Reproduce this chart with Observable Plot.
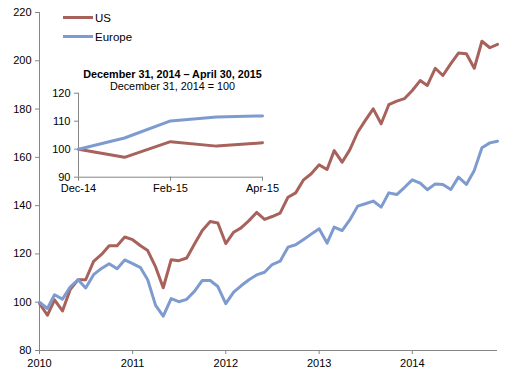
<!DOCTYPE html>
<html>
<head>
<meta charset="utf-8">
<script src="https://cdn.jsdelivr.net/npm/d3@7"></script>
<script src="https://cdn.jsdelivr.net/npm/@observablehq/plot@0.6"></script>
<style>
  html, body { margin: 0; padding: 0; background: #fff; }
  #wrap { position: relative; width: 514px; height: 377px; font-family: "Liberation Sans", Arial, sans-serif; }
  #wrap svg { position: absolute; overflow: visible; }
  #legend { position: absolute; left: 63px; top: 8px; font-size: 11.5px; color: #000; }
  .item { display: flex; align-items: center; height: 19px; }
  .sw { width: 30px; height: 3px; margin-right: 2px; }
</style>
</head>
<body>
<div id="wrap"></div>
<script>
// ---- data ----
const seriesNames = ["US", "Europe"];
const seriesColors = ["#A8625C", "#7E9BCF"];
const startMonth = "2010-01-01";
const endMonth = "2014-12-01";
const yearTicks = ["2010", "2011", "2012", "2013", "2014"];
const yTicks = [80, 100, 120, 140, 160, 180, 200, 220];

const usValues = [
  99.5, 94.6, 101, 96.4, 105.2, 109.3, 109.3, 116.9, 119.8, 123.4, 123.4, 127,
  125.9, 123.4, 121.4, 114.6, 106, 117.6, 117.2, 118.3, 124.2, 129.7, 133.4, 132.8,
  124.3, 129, 130.8, 133.8, 137.2, 134.3, 135.5, 136.9, 143.5, 145.3, 150.7, 153.2,
  156.9, 155, 162.8, 158, 163.1, 170.4, 175.3, 180.1, 173.9, 181.8, 183.3, 184.3,
  187.7, 191.8, 189.8, 196.9, 193.9, 198.8, 203.2, 202.9, 196.9, 208.1, 205.4, 206.8
];
const europeValues = [
  100, 97.4, 103.1, 101.3, 106.3, 109.3, 105.9, 111.4, 114, 115.9, 113.9, 117.5,
  116, 114.3, 109.3, 98.7, 94.2, 101.5, 100.2, 101.2, 104.6, 109, 109, 106.5,
  99.4, 104.2, 106.8, 109.3, 111.3, 112.4, 115.6, 117, 122.8, 123.8, 126, 128.2,
  130.4, 124.5, 131.1, 129.7, 134.1, 139.8, 140.8, 141.9, 139.4, 145.3, 144.6, 147.5,
  150.7, 149.3, 146.6, 149, 148.8, 146.7, 151.8, 148.8, 154.6, 164, 166, 166.7
];

const insetTitle = "December 31, 2014 \u2013 April 30, 2015";
const insetSubtitle = "December 31, 2014 = 100";
const insetMonths = ["Dec-14", "Jan-15", "Feb-15", "Mar-15", "Apr-15"];
const insetTickLabels = ["Dec-14", "Feb-15", "Apr-15"];
const insetYTicks = [90, 100, 110, 120];
const insetUS = [100, 97.1, 102.7, 101.1, 102.3];
const insetEurope = [100, 104.0, 110.1, 111.5, 111.9];

// ---- build tables ----
const months = d3.utcMonth.range(new Date(startMonth), d3.utcMonth.offset(new Date(endMonth), 1));
const mainData = [];
months.forEach((d, i) => {
  mainData.push({date: d, value: usValues[i], series: "US"});
  mainData.push({date: d, value: europeValues[i], series: "Europe"});
});
const insetData = [];
insetMonths.forEach((m, i) => {
  insetData.push({month: m, value: insetUS[i], series: "US"});
  insetData.push({month: m, value: insetEurope[i], series: "Europe"});
});
const axisGray = "#868686";
const font = "\"Liberation Sans\", Arial, sans-serif";

// ---- main chart ----
const main = Plot.plot({
  width: 514,
  height: 377,
  marginLeft: 39,
  marginRight: 17,
  marginTop: 12,
  marginBottom: 27,
  style: {fontFamily: font, fontSize: "11px", color: "#000", background: "transparent"},
  x: {type: "utc", domain: [new Date(startMonth), new Date(endMonth)]},
  y: {domain: [80, 220]},
  color: {domain: seriesNames, range: seriesColors},
  marks: [
    Plot.axisY({ticks: yTicks, tickSize: 4, tickPadding: 4, stroke: axisGray, label: null, color: "#000"}),
    Plot.axisX({ticks: yearTicks.map(y => new Date(y + "-01-01")), tickFormat: d3.utcFormat("%Y"), tickSize: 4, tickPadding: 5, stroke: axisGray, label: null}),
    Plot.ruleX([new Date(startMonth)], {stroke: axisGray}),
    Plot.ruleY([80], {stroke: axisGray}),
    Plot.lineY(mainData, {x: "date", y: "value", z: "series", stroke: "series", strokeWidth: 3, strokeLinejoin: "round"})
  ]
});
main.style.left = "0px";
main.style.top = "0px";
document.getElementById("wrap").appendChild(main);

// ---- inset ----
const inset = Plot.plot({
  width: 290,
  height: 145,
  marginLeft: 78,
  marginRight: 28,
  marginTop: 37.7,
  marginBottom: 23.3,
  style: {fontFamily: font, fontSize: "11px", color: "#000", background: "transparent"},
  x: {type: "point", domain: insetMonths, padding: 0},
  y: {domain: [90, 120]},
  color: {domain: seriesNames, range: seriesColors},
  marks: [
    Plot.axisY({ticks: insetYTicks, tickSize: 4, tickPadding: 4, stroke: axisGray, label: null}),
    Plot.axisX({ticks: insetTickLabels, tickSize: 4, tickPadding: 3, stroke: axisGray, label: null}),
    Plot.ruleX([insetMonths[0]], {stroke: axisGray}),
    Plot.ruleY([90], {stroke: axisGray}),
    Plot.lineY(insetData, {x: "month", y: "value", z: "series", stroke: "series", strokeWidth: 3, strokeLinejoin: "round"}),
    Plot.text([insetTitle], {frameAnchor: "top", lineAnchor: "middle", dx: 2, dy: -18.5, fontWeight: "bold", fontSize: 10.8, fill: "#000"}),
    Plot.text([insetSubtitle], {frameAnchor: "top", lineAnchor: "middle", dx: 2, dy: -6.5, fontSize: 10.8, fill: "#000"})
  ]
});
inset.style.left = "0px";
inset.style.top = "55px";
document.getElementById("wrap").appendChild(inset);

// ---- legend ----
const legend = document.createElement("div");
legend.id = "legend";
seriesNames.forEach((n, i) => {
  const it = document.createElement("div");
  it.className = "item";
  const sw = document.createElement("span");
  sw.className = "sw";
  sw.style.background = seriesColors[i];
  const t = document.createElement("span");
  t.textContent = n;
  it.appendChild(sw);
  it.appendChild(t);
  legend.appendChild(it);
});
document.getElementById("wrap").appendChild(legend);
</script>
</body>
</html>
